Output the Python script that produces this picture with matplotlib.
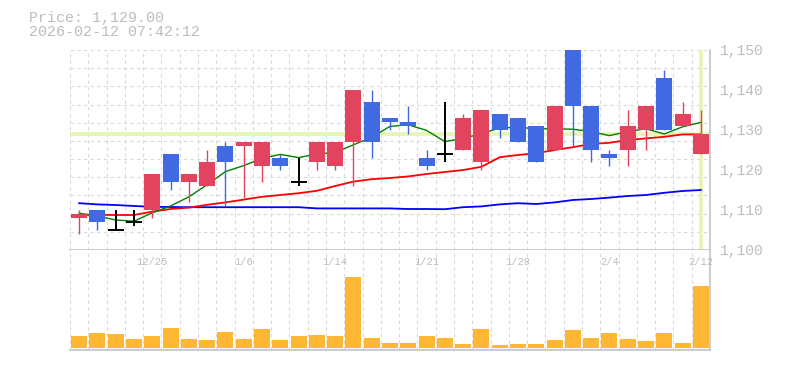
import numpy as np
import matplotlib
matplotlib.use("Agg")
from matplotlib import pyplot as plt
from matplotlib.transforms import blended_transform_factory

# trading days, 12/19 .. 2/12
dates = ["12/19", "12/22", "12/23", "12/24", "12/25", "12/26", "12/29", "12/30",
         "1/5", "1/6", "1/7", "1/8", "1/9", "1/13", "1/14", "1/15", "1/16", "1/19",
         "1/20", "1/21", "1/22", "1/23", "1/26", "1/27", "1/28", "1/29", "1/30",
         "2/2", "2/3", "2/4", "2/5", "2/6", "2/9", "2/10", "2/12"]
opens = [1108, 1110, 1105, 1107, 1110, 1124, 1117, 1116, 1126, 1126, 1121, 1123,
         1117, 1122, 1121, 1127, 1137, 1133, 1132, 1123, 1124, 1125, 1122, 1134,
         1133, 1131, 1125, 1150, 1136, 1124, 1125, 1130, 1143, 1131, 1124]
highs = [1110, 1110, 1110, 1110, 1119, 1124, 1119, 1125, 1127, 1127, 1127, 1124,
         1123, 1127, 1127, 1140, 1140, 1133, 1136, 1125, 1137, 1134, 1135, 1134,
         1133, 1131, 1136, 1150, 1136, 1125, 1135, 1136, 1145, 1137, 1135]
lows = [1104, 1105, 1105, 1106, 1108, 1115, 1112, 1116, 1111, 1113, 1117, 1120,
        1116, 1120, 1120, 1116, 1123, 1130, 1129, 1120, 1122, 1125, 1120, 1128,
        1127, 1122, 1125, 1126, 1122, 1121, 1121, 1125, 1130, 1131, 1124]
closes = [1109, 1107, 1105, 1107, 1119, 1117, 1119, 1122, 1122, 1127, 1127, 1121,
          1117, 1127, 1127, 1140, 1127, 1132, 1131, 1121, 1124, 1133, 1135, 1130,
          1127, 1122, 1136, 1136, 1125, 1123, 1131, 1136, 1130, 1134, 1129]
ma_short = [1109.2, 1108.5, 1107.5, 1107.2, 1109.3, 1111.0, 1113.3, 1116.3, 1119.6,
            1121.1, 1122.9, 1123.9, 1123.1, 1124.0, 1124.4, 1126.3, 1128.2, 1130.9,
            1131.3, 1129.9, 1127.1, 1127.9, 1129.1, 1130.5, 1130.7, 1130.3, 1130.3,
            1130.2, 1129.6, 1128.6, 1129.6, 1130.3, 1129.0, 1130.8, 1131.9]
ma_mid = [1108.8, 1108.8, 1108.75, 1108.75, 1109.6, 1110.25, 1110.6, 1111.3, 1111.9,
          1112.6, 1113.3, 1113.75, 1114.2, 1114.8, 1116.0, 1117.1, 1117.7, 1118.0,
          1118.4, 1119.0, 1119.5, 1120.0, 1120.8, 1123.2, 1123.75, 1124.2, 1125.0,
          1125.7, 1126.5, 1126.8, 1127.5, 1127.9, 1128.3, 1128.9, 1128.9]
ma_long = [1111.7, 1111.4, 1111.25, 1111.0, 1110.8, 1110.75, 1110.7, 1110.7, 1110.7,
           1110.7, 1110.7, 1110.7, 1110.7, 1110.4, 1110.4, 1110.4, 1110.4, 1110.4,
           1110.25, 1110.25, 1110.2, 1110.7, 1110.9, 1111.4, 1111.7, 1111.5, 1111.9,
           1112.5, 1112.75, 1113.1, 1113.5, 1113.75, 1114.3, 1114.75, 1115.0]
volume = [11700, 14700, 13700, 8700, 11700, 19700, 8700, 7700, 15700, 8700, 18700,
          7700, 11700, 12700, 11700, 70700, 9700, 4700, 4700, 11700, 9700, 3700,
          18700, 2700, 3700, 3700, 7700, 17700, 9700, 14700, 8700, 6700, 14700,
          4700, 61700]
stamp = "2026-02-12 07:42:12"

UP, DOWN = "#e2445f", "#4169e1"
GRID = "#d9d9d9"
FRAME = "#c4c4c4"
TXT = "#bdbdbd"
HILITE = "#e4f5b4"
MONO = ["Liberation Mono", "DejaVu Sans Mono"]

n = len(closes)
x = np.arange(n)
o, h, l, c = map(np.array, (opens, highs, lows, closes))
W = 0.875

fig = plt.figure(figsize=(7.85, 3.7), dpi=100)
ax = fig.add_axes([70/785, 1-250/370, 640/785, 200/370])
axv = fig.add_axes([70/785, 1-350/370, 640/785, 100/370])

for a in (ax, axv):
    a.set_xlim(-0.5, n - 0.5)
    for xv in np.arange(-0.5, n - 0.5, 1.0):
        a.axvline(xv, color=GRID, lw=0.8, ls=(0, (3, 3)), zorder=0)
    for s in ("top", "left"):
        a.spines[s].set_visible(False)
    for s in ("right", "bottom"):
        a.spines[s].set_color(FRAME)
        a.spines[s].set_linewidth(1.2)
    a.set_xticks([])

ax.set_ylim(1100, 1150)
for yv in np.linspace(1150, 1100, 12)[:-1]:
    ax.axhline(yv, color=GRID, lw=0.8, ls=(0, (3, 3)), zorder=0)

# current price + crosshair on the last bar
ax.axhline(c[-1], color=HILITE, lw=2.6, zorder=1)
ax.axvline(x[-1], color=HILITE, lw=2.6, zorder=1)

ax.plot(x, ma_long, color="#0000ff", lw=1.3, zorder=2)
ax.plot(x, ma_mid, color="#ff0000", lw=1.3, zorder=2)
ax.plot(x, ma_short, color="#008000", lw=1.0, zorder=2)

up = c > o
down = c < o
flat = c == o
cols = np.where(up, UP, DOWN)
ax.vlines(x[~flat], l[~flat], h[~flat], color=cols[~flat], lw=1.0, zorder=3)
ax.bar(x[~flat], np.abs(c - o)[~flat], bottom=np.minimum(o, c)[~flat],
       width=W, color=cols[~flat], zorder=4)
ax.vlines(x[flat], l[flat], h[flat], color="black", lw=1.4, zorder=4)
ax.hlines(c[flat], x[flat] - W/2, x[flat] + W/2, color="black", lw=1.4, zorder=4)

ax.yaxis.tick_right()
ax.set_yticks(np.arange(1100, 1151, 10))
ax.set_yticklabels([f"{v:,}" for v in range(1100, 1151, 10)])
ax.tick_params(axis="y", length=0, pad=7, labelsize=10.5, labelcolor=TXT)
for t in ax.get_yticklabels():
    t.set_family(MONO)

axv.bar(x, volume, width=W, color="#fdb733", zorder=2)
axv.set_ylim(-2300, 97700)
axv.set_yticks([])
tr = blended_transform_factory(axv.transData, axv.transAxes)
for i in range(4, n, 5):
    axv.text(x[i], 0.88, dates[i], transform=tr, ha="center", va="center",
             fontsize=7.5, color=TXT, family=MONO)

fig.text(29/785, 1-18/370, f"Price: {c[-1]:,.2f}", fontsize=10.8, color=TXT,
         family=MONO, va="center")
fig.text(29/785, 1-32/370, stamp, fontsize=10.8, color=TXT, family=MONO,
         va="center")

fig.savefig("out.png", dpi=100)
